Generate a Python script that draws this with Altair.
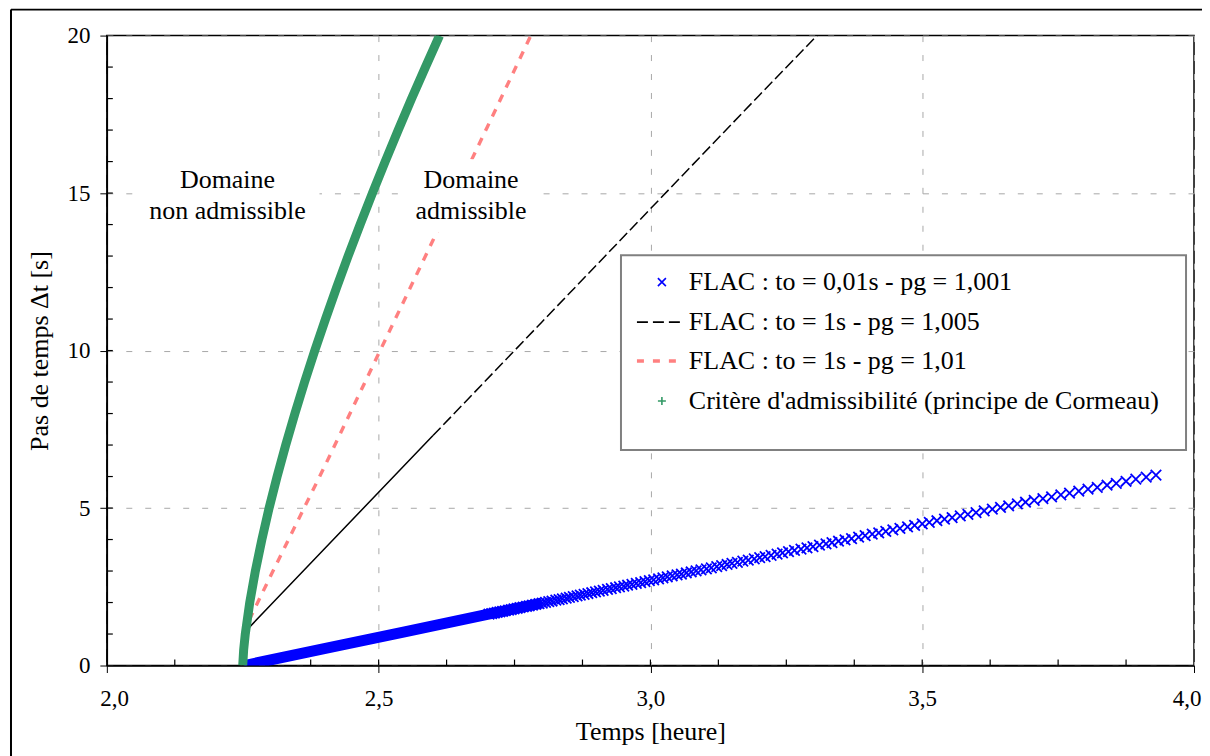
import altair as alt
import pandas as pd

# ---------------- data ----------------
# Critère d'admissibilité (principe de Cormeau)
green_t = [2.250, 2.2517, 2.2547, 2.2629, 2.2732, 2.2852, 2.2985, 2.3132, 2.3291, 2.3460, 2.3638,
           2.3825, 2.4023, 2.4227, 2.4439, 2.4659, 2.4886, 2.5120, 2.5361, 2.5607, 2.5861, 2.612]
green_dt = [0, 0.5, 1, 2, 3, 4, 5, 6, 7, 8, 9, 10, 11, 12, 13, 14, 15, 16, 17, 18, 19, 20]

# FLAC : to = 1s - pg = 1,01
pink_t = [2.262, 2.300, 2.400, 2.500, 2.600, 2.700, 2.780]
pink_dt = [1.45, 2.8, 6.3, 9.9, 13.5, 17.1, 20.0]

# FLAC : to = 1s - pg = 1,005
black_t = [2.256, 2.300, 2.400, 2.500, 2.600, 2.800, 3.000, 3.200, 3.312]
black_dt = [1.1, 1.9, 3.7, 5.5, 7.3, 10.9, 14.5, 18.1, 20.1]

# FLAC : to = 0,01s - pg = 1,001  (dense band part)
blue_band_t = [2.253, 2.400, 2.550, 2.700, 2.800]
blue_band_dt = [0.0, 0.54, 1.08, 1.62, 1.98]
# individual markers (x)
blue_t = [3.930, 3.912, 3.893, 3.875, 3.857, 3.840, 3.822, 3.805, 3.788, 3.771, 3.755, 3.738,
          3.722, 3.706, 3.690, 3.675, 3.659, 3.644, 3.629, 3.614, 3.599, 3.584, 3.570, 3.555,
          3.541, 3.527, 3.513, 3.500, 3.486, 3.473, 3.459, 3.446, 3.433, 3.420, 3.408, 3.395,
          3.383, 3.370, 3.358, 3.346, 3.334, 3.323, 3.311, 3.299, 3.288, 3.277, 3.265, 3.254,
          3.243, 3.233, 3.222, 3.211, 3.201, 3.191, 3.180, 3.170, 3.160, 3.150, 3.141, 3.131,
          3.122, 3.112, 3.103, 3.093, 3.084, 3.075, 3.066, 3.057, 3.049, 3.040, 3.031, 3.023,
          3.015, 3.006, 2.998, 2.990, 2.982, 2.974, 2.966, 2.958, 2.951, 2.943, 2.936, 2.928,
          2.921, 2.913, 2.906, 2.899, 2.892, 2.885, 2.878, 2.871, 2.865, 2.858, 2.851, 2.845,
          2.838, 2.832, 2.826, 2.819, 2.813, 2.807, 2.801, 2.795, 2.789, 2.783, 2.777, 2.772,
          2.766, 2.760, 2.755, 2.749, 2.744, 2.739, 2.733, 2.728, 2.723, 2.718, 2.713, 2.708,
          2.703]
blue_dt = [6.048, 5.983, 5.915, 5.850, 5.785, 5.724, 5.659, 5.598, 5.537, 5.476, 5.418, 5.357,
           5.299, 5.242, 5.184, 5.130, 5.072, 5.018, 4.964, 4.910, 4.856, 4.802, 4.752, 4.698,
           4.648, 4.597, 4.547, 4.500, 4.450, 4.403, 4.352, 4.306, 4.259, 4.212, 4.169, 4.122,
           4.079, 4.032, 3.989, 3.946, 3.902, 3.863, 3.820, 3.776, 3.737, 3.697, 3.654, 3.614,
           3.575, 3.539, 3.499, 3.460, 3.424, 3.388, 3.348, 3.312, 3.276, 3.240, 3.208, 3.172,
           3.139, 3.103, 3.071, 3.035, 3.002, 2.970, 2.938, 2.905, 2.876, 2.844, 2.812, 2.783,
           2.754, 2.722, 2.693, 2.664, 2.635, 2.606, 2.578, 2.549, 2.524, 2.495, 2.470, 2.441,
           2.416, 2.387, 2.362, 2.336, 2.311, 2.286, 2.261, 2.236, 2.214, 2.189, 2.164, 2.142,
           2.117, 2.095, 2.074, 2.048, 2.027, 2.005, 1.984, 1.962, 1.940, 1.919, 1.897, 1.879,
           1.858, 1.836, 1.818, 1.796, 1.778, 1.760, 1.739, 1.721, 1.703, 1.685, 1.667, 1.649,
           1.631]

x_major = [2.0, 2.5, 3.0, 3.5, 4.0]
y_major = [0, 5, 10, 15, 20]
x_inner_ticks = [2.125, 2.25, 2.375, 2.5, 2.625, 2.75, 2.875, 3.0, 3.125, 3.25, 3.375, 3.5,
                 3.625, 3.75, 3.875]
y_inner_ticks = list(range(1, 20))

ann_t = [2.222, 2.222, 2.670, 2.670]
ann_dt = [15.40, 14.42, 15.40, 14.42]
ann_text = ["Domaine", "non admissible", "Domaine", "admissible"]

legend_labels = ["FLAC : to = 0,01s - pg = 1,001",
                 "FLAC : to = 1s - pg = 1,005",
                 "FLAC : to = 1s - pg = 1,01",
                 "Critère d'admissibilité (principe de Cormeau)"]

# ---------------- styling ----------------
FONT = "Liberation Serif"
W, H = 1089, 631
BLUE, BLACK, PINK, GREEN = "#0000ff", "#000000", "#ff8080", "#339966"
XPATH = "M-1,-1L1,1M-1,1L1,-1"
PLUS = "M-1,0L1,0M0,-1L0,1"

xs = alt.Scale(domain=[2, 4], nice=False, zero=False)
ys = alt.Scale(domain=[0, 20], nice=False, zero=False)

x_axis = alt.Axis(values=x_major, labelExpr="replace(format(datum.value, '.1f'), '.', ',')",
                  title="Temps [heure]", grid=True, gridDash=[6, 13], gridColor="#a8a8a8",
                  tickSize=7, tickColor="black", domainColor="black", domainWidth=1.5,
                  labelFontSize=23, titleFontSize=26, labelPadding=15, titlePadding=8,
                  labelColor="black", titleColor="black", titleFontWeight="normal",
                  labelFlush=True, labelFlushOffset=7)
y_axis = alt.Axis(values=y_major, title="Pas de temps Δt [s]", grid=True, gridDash=[6, 13],
                  gridColor="#a8a8a8", tickSize=7, tickColor="black", domainColor="black",
                  domainWidth=1.5, labelFontSize=23, titleFontSize=26, labelPadding=10,
                  titlePadding=14, labelColor="black", titleColor="black",
                  titleFontWeight="normal", labelFlush=False)

X = alt.X("t:Q", scale=xs, axis=x_axis)
Y = alt.Y("dt:Q", scale=ys, axis=y_axis)


def df(t, dt):
    return pd.DataFrame({"t": t, "dt": dt})


blue_band = alt.Chart(df(blue_band_t, blue_band_dt)).mark_line(
    color=BLUE, strokeWidth=11, strokeCap="butt", clip=True).encode(x=X, y=Y, order="t:Q")
blue_pts = alt.Chart(df(blue_t, blue_dt)).mark_point(
    shape=XPATH, size=110, stroke=BLUE, strokeWidth=1.8, filled=False, opacity=1,
    clip=True).encode(x=X, y=Y)

black_df = df(black_t, black_dt)
black_solid = alt.Chart(black_df).transform_filter("datum.t <= 2.6").mark_line(
    color=BLACK, strokeWidth=1.5, clip=True).encode(x=X, y=Y, order="t:Q")
black_dash = alt.Chart(black_df).transform_filter("datum.t >= 2.6").mark_line(
    color=BLACK, strokeWidth=1.5, strokeDash=[11, 4], clip=True).encode(x=X, y=Y, order="t:Q")

pink = alt.Chart(df(pink_t, pink_dt)).mark_line(
    color=PINK, strokeWidth=3.4, strokeDash=[8, 8], clip=True).encode(x=X, y=Y, order="t:Q")

green = alt.Chart(df(green_t, green_dt)).mark_line(
    color=GREEN, strokeWidth=9, strokeCap="butt", clip=True).encode(x=X, y=Y, order="t:Q")

one = pd.DataFrame({"k": [0]})
# white backgrounds behind the two annotations (as in the reference)
ann_bg = [
    alt.Chart(one).mark_rect(fill="white").encode(
        x=alt.value(28), x2=alt.value(213), y=alt.value(124), y2=alt.value(197)),
    alt.Chart(one).mark_rect(fill="white").encode(
        x=alt.value(298), x2=alt.value(433), y=alt.value(124), y2=alt.value(197)),
]

ann = alt.Chart(pd.DataFrame({"t": ann_t, "dt": ann_dt, "txt": ann_text})).mark_text(
    font=FONT, fontSize=26, color="black", align="center", baseline="middle").encode(
    x=X, y=Y, text="txt:N")

x_ticks_in = alt.Chart(pd.DataFrame({"t": x_inner_ticks})).mark_rule(
    color="black", strokeWidth=1.2).encode(x=X, y=alt.value(H), y2=alt.value(H - 6))
y_ticks_in = alt.Chart(pd.DataFrame({"dt": y_inner_ticks})).mark_rule(
    color="black", strokeWidth=1.2).encode(y=Y, x=alt.value(0), x2=alt.value(6))

# ---------------- legend ----------------
LX0, LX1, LY0, LY1 = 515, 1081, 220, 415
leg_box = alt.Chart(one).mark_rect(fill="white", stroke="#808080", strokeWidth=2).encode(
    x=alt.value(LX0), x2=alt.value(LX1), y=alt.value(LY0), y2=alt.value(LY1))
ROW_Y = [247, 287, 326, 366]
leg_layers = [leg_box]
leg_layers.append(alt.Chart(one).mark_point(
    shape=XPATH, size=64, stroke=BLUE, strokeWidth=1.6, filled=False, opacity=1).encode(
    x=alt.value(556), y=alt.value(ROW_Y[0])))
leg_layers.append(alt.Chart(one).mark_rule(color=BLACK, strokeWidth=1.6, strokeDash=[11, 5]).encode(
    x=alt.value(531), x2=alt.value(579), y=alt.value(ROW_Y[1])))
leg_layers.append(alt.Chart(one).mark_rule(color=PINK, strokeWidth=3.4, strokeDash=[7, 9]).encode(
    x=alt.value(531), x2=alt.value(579), y=alt.value(ROW_Y[2])))
leg_layers.append(alt.Chart(one).mark_point(
    shape=PLUS, size=64, stroke=GREEN, strokeWidth=1.6, filled=False, opacity=1).encode(
    x=alt.value(556), y=alt.value(ROW_Y[3])))
for lbl, yy in zip(legend_labels, ROW_Y):
    leg_layers.append(alt.Chart(pd.DataFrame({"lab": [lbl]})).mark_text(
        font=FONT, fontSize=26, color="black", align="left", baseline="middle").encode(
        x=alt.value(583), y=alt.value(yy), text="lab:N"))

# outer frame (top and left edges of the figure border)
frame_top = alt.Chart(one).mark_rule(color="black", strokeWidth=2).encode(
    x=alt.value(-96), x2=alt.value(W + 200), y=alt.value(-26))
frame_left = alt.Chart(one).mark_rule(color="black", strokeWidth=2).encode(
    x=alt.value(-96), y=alt.value(-26), y2=alt.value(H + 200))

chart = alt.layer(
    x_ticks_in, y_ticks_in, blue_band, blue_pts, black_solid, black_dash, pink, green,
    *ann_bg, ann, *leg_layers, frame_top, frame_left
).properties(
    width=W, height=H,
    autosize=alt.AutoSizeParams(type="none"),
    padding={"left": 99, "top": 27, "right": 8, "bottom": 90},
    background="white",
).configure_view(
    stroke="black", strokeWidth=1.5
).configure_axis(
    labelFont=FONT, titleFont=FONT
)

chart.save("out.html", embed_options={"renderer": "svg", "actions": False})
